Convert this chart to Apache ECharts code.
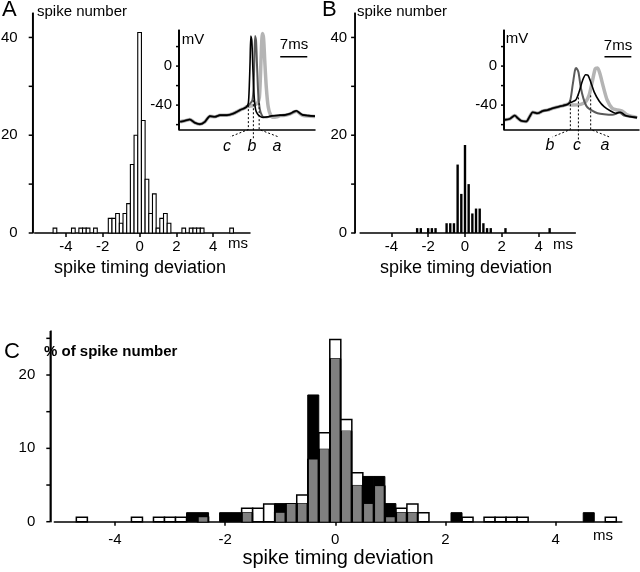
<!DOCTYPE html>
<html><head><meta charset="utf-8">
<script src="https://cdn.jsdelivr.net/npm/echarts@6/dist/echarts.min.js"></script>
<style>html,body{margin:0;padding:0;background:#fff}#c{width:640px;height:572px}</style>
</head><body><div id="c"></div>
<script>
// ---------- DATA ----------
// Panel A histogram (bin centres in ms, spike counts)
const binsA   = [-4.6,-3.6,-3.2,-3.0,-2.8,-2.4,-1.6,-1.4,-1.2,-1.0,-0.8,-0.6,-0.4,-0.2,0,0.2,0.4,0.6,0.8,1.0,1.2,1.4,1.6,2.4,2.8,3.0,3.2,3.4,5.0];
const countsA = [1,1,1,1,1,1,3,3,4,2,4,6,14,20,41,23,11,4,8,1,3,4,2,1,1,1,1,1,1];
// Panel B histogram
const binsB   = [-2.6,-2.4,-2.0,-1.8,-1.6,-1.0,-0.8,-0.6,-0.4,-0.2,0,0.2,0.4,0.6,0.8,1.0,1.2,1.4,2.2,4.6];
const countsB = [1,1,1,1,1,2,2,2,14,8,18,10,4,5,5,2,1,1,1,1];
// Panel C (% of spike number): white = cell A, black = cell B, grey = overlap
const binsC    = [-4.6,-3.6,-3.2,-3.0,-2.8,-2.6,-2.4,-2.0,-1.8,-1.6,-1.4,-1.2,-1.0,-0.8,-0.6,-0.4,-0.2,0,0.2,0.4,0.6,0.8,1.0,1.2,1.4,1.6,2.2,2.4,2.8,3.0,3.2,3.4,4.6,5.0];
const pctWhite = [0.61,0.61,0.61,0.61,0.61,0,0.61,0,0,1.82,1.82,2.42,1.21,2.42,3.64,8.48,12.12,24.85,13.94,6.67,2.42,4.85,0.61,1.82,2.42,1.21,0,0.61,0.61,0.61,0.61,0.61,0,0.61];
const pctBlack = [0,0,0,0,0,1.23,1.23,1.23,1.23,1.23,0,0,2.47,2.47,2.47,17.28,9.88,22.22,12.35,4.94,6.17,6.17,2.47,1.23,1.23,0,1.23,0,0,0,0,0,1.23,0];
const pctGrey  = [0,0,0,0,0,0,0.61,0,0,1.23,0,0,1.21,2.42,2.47,8.48,9.88,22.22,12.35,4.94,2.42,4.85,0.61,1.23,1.23,0,0,0,0,0,0,0,0,0];
// Ticks and tick labels
const histTicksYab  = [0,10,20,30,40];
const histLabelsYab = [0,20,40];
const histTicksYc   = [0,5,10,15,20,25];
const histLabelsYc  = [0,10,20];
const insetTicksY   = [-60,-40,-20,0,20];
const insetLabelsY  = [-40,0];
// Inset A traces [ms, mV]
const traceBaseA = [[0.3,-57.1],[1.5,-56.1],[2.8,-54.7],[4.1,-58.1],[5.4,-59.5],[6.7,-57.1],[8.0,-51.3],[9.3,-52],[10.6,-50.3],[12.4,-50.3],[14.1,-48.6],[15.8,-45.1],[17.0,-43],[17.5,-41.7]];
const traceA_c = [[17.95,-38],[18.2,-20],[18.4,5],[18.6,30.8],[18.85,26],[19.1,0],[19.4,-28],[19.8,-44],[20.3,-49],[21.0,-51.5],[21.8,-52.6],[22.8,-52],[24.0,-51],[26.2,-50.3],[27.5,-50],[28.8,-48.6],[29.8,-46.5],[30.4,-45.8],[31.2,-48],[32.0,-50],[33.5,-50.8],[35.2,-51.3]];
const traceA_b = [[18.3,-39],[19.0,-35],[19.3,-22],[19.5,5],[19.7,30.8],[19.95,26],[20.2,0],[20.5,-28],[20.9,-44],[21.4,-50],[22.0,-52.5],[22.8,-52.5],[24.0,-51.3],[26.2,-50.5],[27.5,-50.2],[28.8,-48.8],[29.8,-46.8],[30.4,-46],[31.2,-48.2],[32.0,-50.2],[33.5,-51],[35.2,-51.5]];
const traceA_a = [[18.5,-41],[19.5,-40],[20.3,-38],[20.8,-32],[21.1,-8],[21.35,20],[21.6,33.5],[21.9,28],[22.2,5],[22.6,-22],[23.1,-42],[23.7,-50],[24.4,-52.5],[25.3,-52],[26.2,-50.8],[27.5,-50.3],[28.8,-49],[29.8,-47],[30.4,-46.2],[31.2,-48.4],[32.0,-50.4],[33.5,-51.2],[35.2,-51.7]];
// Inset B traces [ms, mV]
const traceBaseB = [[0.2,-55.1],[1.5,-54.1],[2.8,-50.7],[3.6,-53.4],[4.5,-56.1],[5.8,-56.8],[6.7,-51.7],[7.5,-47.3],[8.8,-48.4],[10.1,-46],[11.4,-45],[12.7,-43.3],[14.0,-41.9],[15.3,-40.6],[16.6,-39.2]];
const traceB_b = [[17.3,-34.8],[17.9,-19.6],[18.5,-4.4],[18.8,-2],[19.4,-6],[20.0,-21.3],[20.7,-33.1],[21.6,-41.6],[23.1,-46],[24.4,-48.3],[26.1,-49.4],[28.2,-50],[29.2,-49],[30.0,-47.3],[31.3,-50.7],[33.0,-52],[34.7,-52.8]];
const traceB_c = [[17.4,-37.2],[18.7,-34.8],[19.6,-26.4],[20.5,-14.5],[21.3,-8.8],[21.9,-9.4],[22.6,-16.2],[23.5,-26.4],[24.8,-35.8],[26.1,-41.6],[27.8,-46],[29.1,-48.3],[30.4,-47.3],[31.7,-50.7],[33.0,-51.8],[34.7,-52.8]];
const traceB_a = [[17.9,-39.9],[20.0,-39.2],[21.3,-36.5],[22.2,-29.7],[23.1,-14.5],[23.8,-2.7],[24.4,-2],[25.0,-7.7],[25.9,-21.3],[26.9,-34.8],[28.2,-43.3],[29.5,-45],[30.8,-46],[32.1,-50],[34.7,-52.8]];
// Threshold markers (dashed leaders) [ms, mV] polylines
const markA_c = [[17.95,-40],[17.95,-65],[13.2,-72.5]];
const markA_b = [[19.25,-35],[19.25,-76]];
const markA_a = [[20.75,-38],[20.75,-65],[25.7,-72.5]];
const markB_b = [[17.3,-35],[17.3,-65],[12.7,-72.5]];
const markB_c = [[19.4,-28],[19.4,-76]];
const markB_a = [[22.6,-30],[22.6,-65],[27.4,-72.5]];
const scaleBar = [[26.2,9.5],[33.2,9.5]]; // 7 ms

// ---------- LAYOUT ----------
const FONT = '"Liberation Sans", Arial, Helvetica, sans-serif';
const BLK = '#000';
// plotting frames: pixel box + data extent; yX = x pixel of the y-axis line
const LA  = {left:34.7, top:13,  width:215.3, height:220,   xmin:-5.7, xmax:6.0,  ymin:0,   ymax:45, yX:32.7};
const LB  = {left:360.1,top:13,  width:215.3, height:220,   xmin:-5.7, xmax:6.0,  ymin:0,   ymax:45, yX:355.1};
const LC  = {left:54.3, top:331, width:567.5, height:190.7, xmin:-5.1, xmax:5.2,  ymin:0,   ymax:26, yX:50.3};
const LIA = {left:179,  top:30,  width:136,   height:99.5,  xmin:0,    xmax:35.2, ymin:-65, ymax:37, yX:179};
const LIB = {left:504,  top:30,  width:135,   height:99.5,  xmin:0,    xmax:35.2, ymin:-65, ymax:37, yX:504};
const HELPW = 20;
function px(L, x) { return L.left + (x - L.xmin) / (L.xmax - L.xmin) * L.width; }
function py(L, y) { return L.top + (L.ymax - y) / (L.ymax - L.ymin) * L.height; }
function unitsPerPx(L) { return (L.xmax - L.xmin) / L.width; }

const grids = [], xAxes = [], yAxes = [], axisSeries = [], axisFrames = [];
const G = (o) => Object.assign({outerBoundsMode:'none', containLabel:false}, o);
const lbl = (extra) => Object.assign({show:true, color:BLK, fontSize:15, fontFamily:FONT}, extra);
const hiddenAxis = (gi, min, max) => ({gridIndex:gi, type:'value', min:min, max:max, splitLine:{show:false},
  axisLine:{show:false}, axisTick:{show:false}, axisLabel:{show:false}});

// data frame: carries the series, the x-axis line and (as line series) the y-axis line + ticks
function addFrame(L, yTicks, tickLen) {
  const gi = grids.length;
  grids.push(G({left:L.left, top:L.top, width:L.width, height:L.height}));
  xAxes.push({gridIndex:gi, type:'value', min:L.xmin, max:L.xmax, splitLine:{show:false},
    axisLine:{show:true, onZero:false, lineStyle:{color:BLK, width:1.5}}, axisTick:{show:false}, axisLabel:{show:false}});
  yAxes.push({gridIndex:gi, type:'value', min:L.ymin, max:L.ymax, offset:L.left - L.yX, splitLine:{show:false},
    axisLine:{show:true, onZero:false, lineStyle:{color:BLK, width:1.5}}, axisTick:{show:false}, axisLabel:{show:false}});
  const upp = unitsPerPx(L);
  const xPos = L.xmin - (L.left - L.yX) * upp;          // data x of the y-axis line
  const segStyle = {type:'line', xAxisIndex:gi, yAxisIndex:gi, showSymbol:false, symbol:'none', clip:false,
    silent:true, z:10, lineStyle:{color:BLK, width:1.5, type:'solid'}};
  axisSeries.push(Object.assign({}, segStyle, {data:[[xPos, L.ymin], [xPos, L.ymax]]}));
  yTicks.forEach(v => axisSeries.push(Object.assign({}, segStyle, {data:[[xPos, v], [xPos - tickLen * upp, v]]})));
  axisFrames.push({gi:gi, xPos:xPos, L:L, ticks:yTicks, tickLen:tickLen});
  return gi;
}
// y tick labels over the tick range only
function addYLabels(L, yt) {
  const gi = grids.length;
  const t = py(L, yt.max), b = py(L, yt.min);
  grids.push(G({left:L.yX, top:t, width:HELPW, height:b - t}));
  xAxes.push(hiddenAxis(gi, 0, 1));
  yAxes.push({gridIndex:gi, type:'value', min:yt.min, max:yt.max, interval:yt.interval, splitLine:{show:false},
    axisLine:{show:false}, axisTick:{show:false},
    axisLabel:lbl({margin:yt.margin, formatter:(v)=> yt.labels.indexOf(v) >= 0 ? String(v) : ''})});
}
// x ticks + labels over the tick range only
function addXTicks(L, xt) {
  const gi = grids.length;
  const l = px(L, xt.min), r = px(L, xt.max);
  grids.push(G({left:l, top:L.top, width:r - l, height:L.height}));
  xAxes.push({gridIndex:gi, type:'value', min:xt.min, max:xt.max, interval:xt.interval, splitLine:{show:false},
    axisLine:{show:false, onZero:false},
    axisTick:{show:true, length:4, lineStyle:{color:BLK, width:1.5}},
    axisLabel:lbl({margin:xt.margin})});
  yAxes.push(hiddenAxis(gi, 0, 1));
}

const gA = addFrame(LA, histTicksYab, 4);
addYLabels(LA, {min:0, max:40, interval:10, margin:15, labels:histLabelsYab});
addXTicks(LA, {min:-4, max:4, interval:2, margin:6});
const gIA = addFrame(LIA, insetTicksY, 3);
addYLabels(LIA, {min:-60, max:20, interval:20, margin:7, labels:insetLabelsY});
const gB = addFrame(LB, histTicksYab, 4);
addYLabels(LB, {min:0, max:40, interval:10, margin:8, labels:histLabelsYab});
addXTicks(LB, {min:-4, max:4, interval:2, margin:6});
const gIB = addFrame(LIB, insetTicksY, 3);
addYLabels(LIB, {min:-60, max:20, interval:20, margin:7, labels:insetLabelsY});
const gC = addFrame(LC, histTicksYc, 4);
addYLabels(LC, {min:0, max:25, interval:5, margin:15, labels:histLabelsYc});
addXTicks(LC, {min:-4, max:4, interval:2, margin:11});

// ---------- SERIES ----------
function histItem(halfW, fill, stroke, lw, insetPx) {
  return function(params, api) {
    const x = api.value(0), v = api.value(1);
    if (!v) return null;
    const p0 = api.coord([x - halfW, 0]);
    const p1 = api.coord([x + halfW, v]);
    return {type:'rect', shape:{x:p0[0]+insetPx, y:p1[1], width:(p1[0]-p0[0])-2*insetPx, height:p0[1]-p1[1]},
      style:{fill:fill, stroke:stroke, lineWidth:lw}};
  };
}
function pairs(b, v) { return b.map((x,i)=>[x, v[i]]); }
function hist(g, data, render, z) {
  return {type:'custom', xAxisIndex:g, yAxisIndex:g, data:data, encode:{x:0,y:1}, renderItem:render, z:z, silent:true};
}
function trace(g, data, color, width, z) {
  return {type:'line', xAxisIndex:g, yAxisIndex:g, data:data, showSymbol:false, symbol:'none',
    smooth:0.25, lineStyle:{color:color, width:width}, z:z, silent:true};
}
function dashed(g, data) {
  return {type:'line', xAxisIndex:g, yAxisIndex:g, data:data, showSymbol:false, symbol:'none',
    clip:false, lineStyle:{color:BLK, width:1, type:[2,2]}, z:20, silent:true};
}
function bar7(g) {
  return {type:'line', xAxisIndex:g, yAxisIndex:g, data:scaleBar, showSymbol:false, symbol:'none',
    lineStyle:{color:BLK, width:1.5}, silent:true};
}
function txt(x, y, s, size, extra) {
  return {type:'text', x:x, y:y, z:100, style:Object.assign({text:s, fontSize:size, fontFamily:FONT, fill:BLK, align:'left', verticalAlign:'middle'}, extra||{})};
}

const series = [
  hist(gA, pairs(binsA, countsA), histItem(0.1, '#fff', BLK, 1.1, 0), 2),
  hist(gB, pairs(binsB, countsB), histItem(0.065, BLK, null, 0, 0), 2),
  hist(gC, pairs(binsC, pctWhite), histItem(0.1, '#fff', BLK, 1.5, 0), 2),
  hist(gC, pairs(binsC, pctBlack), histItem(0.1, BLK, BLK, 1, 0), 3),
  hist(gC, pairs(binsC, pctGrey),  histItem(0.1, '#808080', null, 0, 1.2), 4),
  trace(gIA, traceBaseA.concat(traceA_a), '#b4b4b4', 3.5, 5),
  trace(gIA, traceBaseA.concat(traceA_b), '#5a5a5a', 2, 6),
  trace(gIA, traceBaseA.concat(traceA_c), '#000', 1.6, 7),
  dashed(gIA, markA_c), dashed(gIA, markA_b), dashed(gIA, markA_a), bar7(gIA),
  trace(gIB, traceBaseB.concat(traceB_a), '#b4b4b4', 3.5, 5),
  trace(gIB, traceBaseB.concat(traceB_b), '#5a5a5a', 2, 6),
  trace(gIB, traceBaseB.concat(traceB_c), '#000', 1.6, 7),
  dashed(gIB, markB_b), dashed(gIB, markB_c), dashed(gIB, markB_a), bar7(gIB)
].concat(axisSeries);

const texts = [
  txt(2, 10, 'A', 22),
  txt(37, 12, 'spike number', 15),
  txt(322, 10, 'B', 22),
  txt(357, 12, 'spike number', 15),
  txt(4, 352, 'C', 22),
  txt(44, 352, '% of spike number', 15, {fontWeight:'bold'}),
  txt(238, 244, 'ms', 15, {align:'center'}),
  txt(563, 245, 'ms', 15, {align:'center'}),
  txt(603, 536, 'ms', 15, {align:'center'}),
  txt(140, 268, 'spike timing deviation', 18, {align:'center'}),
  txt(466, 268, 'spike timing deviation', 18, {align:'center'}),
  txt(338, 558, 'spike timing deviation', 20, {align:'center'}),
  txt(193, 40, 'mV', 15, {align:'center'}),
  txt(517, 39, 'mV', 15, {align:'center'}),
  txt(294, 45, '7ms', 15, {align:'center'}),
  txt(618, 46, '7ms', 15, {align:'center'}),
  txt(227, 147, 'c', 16, {align:'center', fontStyle:'italic'}),
  txt(252, 147, 'b', 16, {align:'center', fontStyle:'italic'}),
  txt(277, 147, 'a', 16, {align:'center', fontStyle:'italic'}),
  txt(550, 146, 'b', 16, {align:'center', fontStyle:'italic'}),
  txt(577, 146, 'c', 16, {align:'center', fontStyle:'italic'}),
  txt(605, 146, 'a', 16, {align:'center', fontStyle:'italic'})
];

const chart = echarts.init(document.getElementById('c'), null, {renderer:'canvas'});
chart.setOption({
  animation:false,
  backgroundColor:'#fff',
  textStyle:{fontFamily:FONT},
  grid:grids, xAxis:xAxes, yAxis:yAxes, series:series,
  graphic:texts
});

// y-axis lines and ticks also placed through the library's own coordinate conversion
const axisGraphics = [];
axisFrames.forEach(f => {
  const upp = unitsPerPx(f.L);
  const p0 = chart.convertToPixel({gridIndex:f.gi}, [f.xPos, f.L.ymin]);
  const p1 = chart.convertToPixel({gridIndex:f.gi}, [f.xPos, f.L.ymax]);
  if (!p0 || !p1) return;
  axisGraphics.push({type:'line', z:90, shape:{x1:p0[0], y1:p0[1], x2:p1[0], y2:p1[1]}, style:{stroke:BLK, lineWidth:1.5}});
  f.ticks.forEach(v => {
    const a = chart.convertToPixel({gridIndex:f.gi}, [f.xPos, v]);
    const b = chart.convertToPixel({gridIndex:f.gi}, [f.xPos - f.tickLen * upp, v]);
    axisGraphics.push({type:'line', z:90, shape:{x1:a[0], y1:a[1], x2:b[0], y2:b[1]}, style:{stroke:BLK, lineWidth:1.5}});
  });
});
chart.setOption({graphic:texts.concat(axisGraphics)});
</script>
</body></html>
